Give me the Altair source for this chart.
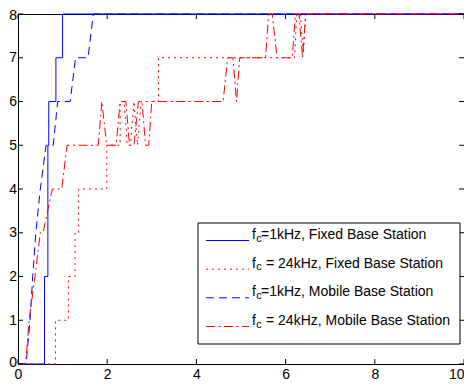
import altair as alt
import pandas as pd

# ---------------- data ----------------
x_fixed_1k = [0, 0.595, 0.595, 0.67, 0.67, 0.69, 0.69, 0.85, 0.85, 1.0, 1.0, 10]
y_fixed_1k = [0, 0, 2, 2, 5, 5, 6, 6, 7, 7, 8, 8]

x_fixed_24k = [0, 0.84, 0.84, 1.13, 1.13, 1.28, 1.28, 1.36, 1.36, 1.99, 1.99, 2.29, 2.29,
               2.38, 2.45, 2.52, 2.60, 2.68, 2.76, 3.15, 3.15, 6.20, 6.25, 6.33, 6.40, 6.45, 10]
y_fixed_24k = [0, 0, 1, 1, 2, 2, 3, 3, 4, 4, 5, 5, 6,
               6, 5, 5, 6, 5, 6, 6, 7, 7, 8, 8, 7.1, 8, 8]

x_mobile_1k = [0, 0.18, 0.27, 0.33, 0.40, 0.50, 0.63, 0.79, 0.89, 1.17, 1.29, 1.57, 1.69, 10]
y_mobile_1k = [0, 0, 1, 2, 3, 4, 5, 5, 6, 6, 7, 7, 8, 8]

x_mobile_24k = [0, 0.17, 0.25, 0.38, 0.50, 0.56, 0.77, 0.98, 1.10, 1.80, 1.88, 1.99, 2.20,
                2.29, 2.42, 2.50, 2.60, 2.70, 2.78, 2.86, 2.93, 3.00, 4.60, 4.70, 4.82,
                4.90, 4.97, 5.55, 5.62, 5.70, 5.81, 6.15, 6.22, 6.30, 6.38, 6.45, 10]
y_mobile_24k = [0, 0, 1, 2, 3, 3, 4, 4, 5, 5, 6, 5, 5,
                6, 6, 5, 5, 6, 6, 5, 5, 6, 6, 7, 7,
                6, 7, 7, 8, 8, 7, 7, 8, 8, 7, 8, 8]

x_ticks = [0, 2, 4, 6, 8, 10]
y_ticks = [0, 1, 2, 3, 4, 5, 6, 7, 8]

legend_main = ["=1kHz, Fixed Base Station",
               "= 24kHz, Fixed Base Station",
               "=1kHz, Mobile Base Station",
               "= 24kHz, Mobile Base Station"]

# ---------------- styling / layout ----------------
W, H = 446, 350
FONT = "Liberation Sans"
BLUE, RED = "#0000ff", "#ff0000"

series = [
    (x_fixed_1k, y_fixed_1k, BLUE, None),
    (x_fixed_24k, y_fixed_24k, RED, [2, 4]),
    (x_mobile_1k, y_mobile_1k, BLUE, [8, 5]),
    (x_mobile_24k, y_mobile_24k, RED, [9, 3.5, 2, 3.5]),
]

x_enc = alt.X("x:Q", scale=alt.Scale(domain=[0, 10], nice=False, zero=False),
              axis=alt.Axis(values=x_ticks, title=None, labelPadding=3, format="d",
                            labelFlush=False,
                            labelAlign={"condition": {"test": "datum.value == 10", "value": "right"},
                                        "value": "center"}))
y_enc = alt.Y("y:Q", scale=alt.Scale(domain=[0, 8], nice=False, zero=False),
              axis=alt.Axis(values=y_ticks, title=None, labelPadding=1.5, format="d",
                            labelFlush=False,
                            labelOffset={"condition": [
                                {"test": "datum.value == 8", "value": 1.5},
                                {"test": "datum.value == 0", "value": -2}],
                                "value": 0}))

layers = []
for xs, ys, col, dash in series:
    df = pd.DataFrame({"x": xs, "y": ys, "i": list(range(len(xs)))})
    kw = dict(color=col, strokeWidth=1)
    if dash:
        kw["strokeDash"] = dash
    layers.append(alt.Chart(df).mark_line(**kw).encode(x=x_enc, y=y_enc, order="i:Q"))

# inward ticks on all four sides
xt_df = pd.DataFrame({"x": x_ticks})
yt_df = pd.DataFrame({"y": y_ticks})
layers.append(alt.Chart(xt_df).mark_rule(color="black", strokeWidth=1).encode(
    x=x_enc, y=alt.value(H), y2=alt.value(H - 5)))
layers.append(alt.Chart(xt_df).mark_rule(color="black", strokeWidth=1).encode(
    x=x_enc, y=alt.value(0), y2=alt.value(5)))
layers.append(alt.Chart(yt_df).mark_rule(color="black", strokeWidth=1).encode(
    y=y_enc, x=alt.value(0), x2=alt.value(5)))
layers.append(alt.Chart(yt_df).mark_rule(color="black", strokeWidth=1).encode(
    y=y_enc, x=alt.value(W), x2=alt.value(W - 5)))

# legend box
one = pd.DataFrame({"a": [0]})
layers.append(alt.Chart(one).mark_rect(fill="white", stroke="black", strokeWidth=1).encode(
    x=alt.value(180), x2=alt.value(442), y=alt.value(209), y2=alt.value(330)))

baselines = [225, 253.7, 282.3, 311]
text_x = [243, 248, 243, 248]
for (xs, ys, col, dash), yb, label, tx in zip(series, baselines, legend_main, text_x):
    kw = dict(color=col, strokeWidth=1)
    if dash:
        kw["strokeDash"] = dash
    layers.append(alt.Chart(one).mark_rule(**kw).encode(
        x=alt.value(188), x2=alt.value(231), y=alt.value(yb + 1.5)))
    layers.append(alt.Chart(one).mark_text(align="left", baseline="alphabetic", font=FONT,
                                           fontSize=14, color="black").encode(
        x=alt.value(234), y=alt.value(yb), text=alt.value("f")))
    layers.append(alt.Chart(one).mark_text(align="left", baseline="alphabetic", font=FONT,
                                           fontSize=11, color="black").encode(
        x=alt.value(238.3), y=alt.value(yb + 2.7), text=alt.value("c")))
    layers.append(alt.Chart(one).mark_text(align="left", baseline="alphabetic", font=FONT,
                                           fontSize=14, color="black").encode(
        x=alt.value(tx), y=alt.value(yb), text=alt.value(label)))

chart = alt.layer(*layers).properties(
    width=W, height=H,
    autosize=alt.AutoSizeParams(type="none"),
    padding={"left": 10, "top": 6, "right": 0, "bottom": 17},
    background="white",
).configure_view(
    stroke="black", strokeWidth=1
).configure_axis(
    ticks=False, tickSize=0, domain=False, grid=False,
    labelFont=FONT, labelFontSize=14, labelColor="black"
)

chart.save("out.html", embed_options={"renderer": "svg", "actions": False})
